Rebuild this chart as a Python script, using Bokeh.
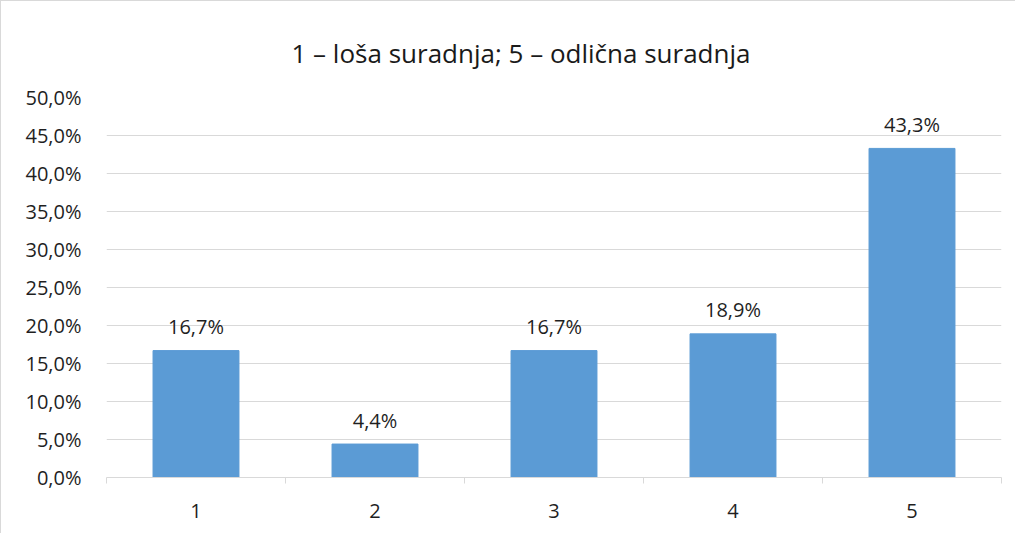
from bokeh.plotting import figure
from bokeh.models import ColumnDataSource, FixedTicker, LabelSet, Range1d
from bokeh.core.properties import value
from bokeh.embed import file_html
from bokeh.resources import INLINE

categories = ["1", "2", "3", "4", "5"]
shares = [16.7, 4.4, 16.7, 18.9, 43.3]
y_ticks = [0, 5, 10, 15, 20, 25, 30, 35, 40, 45, 50]
title_text = "1 – loša suradnja; 5 – odlična suradnja"

FONT = "Open Sans"
TXT = "#1f1f1f"
GRID = "#d9d9d9"
BAR = "#5B9BD5"

xs = [i + 1 for i in range(len(categories))]
labels = [("%.1f%%" % v).replace(".", ",") for v in shares]
src = ColumnDataSource(dict(x=xs, top=shares, lab=labels))

p = figure(width=1015, height=533, output_backend="svg", toolbar_location=None,
           x_range=Range1d(0.5, len(categories) + 0.5), y_range=Range1d(0, 50),
           min_border_left=105, min_border_right=15, min_border_top=96, min_border_bottom=57)
p.outline_line_color = None
p.background_fill_color = "white"
p.border_fill_color = "white"

p.title.text = title_text
p.title.align = "left"
p.title.offset = 185
p.title.standoff = 53
p.title.text_font = FONT
p.title.text_font_size = "26px"
p.title.text_font_style = "normal"
p.title.text_color = "#1a1a1a"

p.vbar(x="x", top="top", width=0.48, source=src, fill_color=BAR, line_color=BAR)

p.add_layout(LabelSet(x="x", y="top", text="lab", source=src, text_align="center",
                      text_baseline="middle", y_offset=24, text_font=value(FONT),
                      text_font_size=value("20px"), text_color=value(TXT)))

# y axis
p.yaxis.ticker = FixedTicker(ticks=y_ticks)
p.yaxis.major_label_overrides = {t: ("%.1f%%" % t).replace(".", ",") for t in y_ticks}
p.yaxis.axis_line_color = None
p.yaxis.major_tick_line_color = None
p.yaxis.minor_tick_line_color = None
p.yaxis.major_label_standoff = 19
p.yaxis.major_label_text_font = FONT
p.yaxis.major_label_text_font_size = "20px"
p.yaxis.major_label_text_color = TXT
p.ygrid.grid_line_color = GRID
p.ygrid.grid_line_width = 1
p.xgrid.grid_line_color = None

# x axis
p.xaxis.ticker = FixedTicker(ticks=xs, minor_ticks=[x + 0.5 for x in [0] + xs])
p.xaxis.major_label_overrides = {x: c for x, c in zip(xs, categories)}
p.xaxis.axis_line_color = GRID
p.xaxis.axis_line_width = 1
p.xaxis.major_tick_line_color = None
p.xaxis.minor_tick_line_color = GRID
p.xaxis.minor_tick_out = 6
p.xaxis.minor_tick_in = 0
p.xaxis.major_label_standoff = 20
p.xaxis.major_label_text_font = FONT
p.xaxis.major_label_text_font_size = "20px"
p.xaxis.major_label_text_color = TXT

p.styles = {"border-top": "1px solid #d9d9d9", "border-left": "1px solid #d9d9d9"}

open("out.html", "w").write(file_html(p, INLINE))
